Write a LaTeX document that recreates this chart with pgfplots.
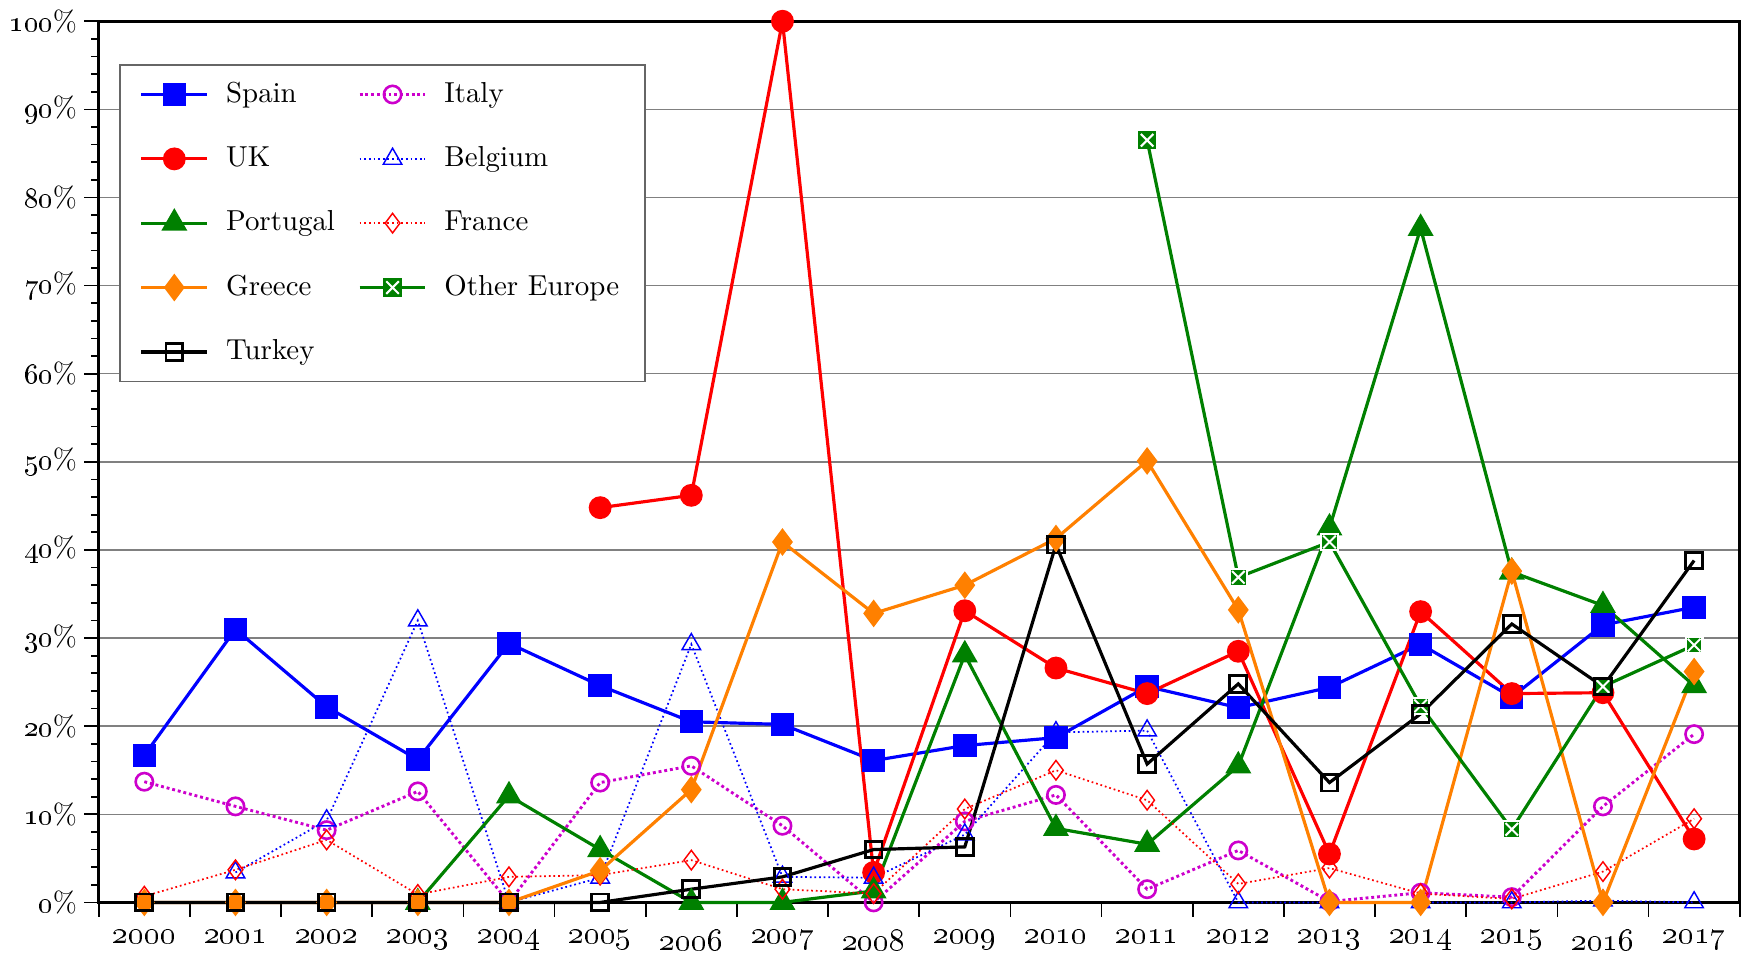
\documentclass[border=0pt]{standalone}
\usepackage{pgfplots}
\pgfplotsset{compat=1.18}

\definecolor{cSpain}{RGB}{0,0,255}
\definecolor{cUK}{RGB}{255,0,0}
\definecolor{cGreen}{RGB}{0,128,0}
\definecolor{cGreece}{RGB}{255,128,0}
\definecolor{cItaly}{RGB}{204,0,204}

% green box with a white cross, for "Other Europe"
\pgfdeclareplotmark{boxx}{%
  \pgfpathrectangle{\pgfqpoint{-\pgfplotmarksize}{-\pgfplotmarksize}}{\pgfqpoint{2\pgfplotmarksize}{2\pgfplotmarksize}}%
  \pgfusepathqfillstroke
  \pgfsetstrokecolor{white}%
  \pgfsetlinewidth{0.7pt}%
  \pgfpathmoveto{\pgfqpoint{-0.75\pgfplotmarksize}{-0.75\pgfplotmarksize}}%
  \pgfpathlineto{\pgfqpoint{0.75\pgfplotmarksize}{0.75\pgfplotmarksize}}%
  \pgfpathmoveto{\pgfqpoint{-0.75\pgfplotmarksize}{0.75\pgfplotmarksize}}%
  \pgfpathlineto{\pgfqpoint{0.75\pgfplotmarksize}{-0.75\pgfplotmarksize}}%
  \pgfusepathqstroke
}

\begin{document}
\begin{tikzpicture}
\begin{axis}[
  scale only axis, width=568pt, height=305pt,
  xmin=1999.5, xmax=2017.5, ymin=0, ymax=100,
  xtick={1999.5,2000.5,...,2017.5},
  x tick label as interval,
  xticklabels={\oldstylenums{2000},\oldstylenums{2001},\oldstylenums{2002},\oldstylenums{2003},\oldstylenums{2004},\oldstylenums{2005},\oldstylenums{2006},\oldstylenums{2007},\oldstylenums{2008},\oldstylenums{2009},\oldstylenums{2010},\oldstylenums{2011},\oldstylenums{2012},\oldstylenums{2013},\oldstylenums{2014},\oldstylenums{2015},\oldstylenums{2016},\oldstylenums{2017}},
  ytick={0,10,...,100},
  yticklabels={\oldstylenums{0}\%,\oldstylenums{10}\%,\oldstylenums{20}\%,\oldstylenums{30}\%,\oldstylenums{40}\%,\oldstylenums{50}\%,\oldstylenums{60}\%,\oldstylenums{70}\%,\oldstylenums{80}\%,\oldstylenums{90}\%,\oldstylenums{100}\%},
  minor y tick num=4,
  xtick pos=bottom, ytick pos=left,
  tick align=outside, major tick length=5pt, minor tick length=2.6pt,
  tick style={black, line width=0.6pt},
  ymajorgrids, major grid style={gray, line width=0.5pt},
  axis line style={black, line width=0.9pt},
  xticklabel style={font=\fontsize{10.5}{12}\selectfont, yshift=-1pt},
  yticklabel style={font=\normalsize, xshift=1pt},
  clip=false,
  legend columns=2,
  legend style={at={(0.0122,0.9516)}, anchor=north west, draw=gray!80!black, line width=0.6pt,
    inner xsep=7pt, inner ysep=4pt, row sep=9.8pt,
    /tikz/every even column/.append style={column sep=6pt},
    nodes={inner sep=2pt}, font=\normalsize},
  legend cell align=left,
  legend image code/.code={%
    \draw[mark repeat=2,mark phase=2] plot coordinates {(0cm,0cm) (0.4cm,0cm) (0.8cm,0cm)};
    \path (0.8cm+4pt,0cm);},
]
% Spain
\addplot[cSpain, line width=1.1pt, mark=square*, mark size=3.5pt] coordinates {
(2000,16.7) (2001,31.0) (2002,22.2) (2003,16.2) (2004,29.4) (2005,24.6) (2006,20.5) (2007,20.2) (2008,16.1)
(2009,17.8) (2010,18.7) (2011,24.5) (2012,22.1) (2013,24.4) (2014,29.3) (2015,23.3) (2016,31.5) (2017,33.5)};
\addlegendentry{Spain}
% Italy
\addplot[cItaly, line width=1.0pt, densely dotted, mark=o, mark size=3pt, mark options={solid, line width=0.9pt}] coordinates {
(2000,13.7) (2001,10.9) (2002,8.2) (2003,12.6) (2004,0.0) (2005,13.6) (2006,15.5) (2007,8.7) (2008,0.0)
(2009,9.2) (2010,12.2) (2011,1.5) (2012,5.9) (2013,0.1) (2014,1.1) (2015,0.6) (2016,10.9) (2017,19.1)};
\addlegendentry{Italy}
% UK
\addplot[cUK, line width=1.1pt, mark=*, mark size=3.4pt] coordinates {
(2005,44.8) (2006,46.2) (2007,100) (2008,3.4) (2009,33.1) (2010,26.6) (2011,23.7) (2012,28.5)
(2013,5.5) (2014,33.0) (2015,23.7) (2016,23.8) (2017,7.2)};
\addlegendentry{UK}
% Belgium
\addplot[cSpain, line width=0.6pt, densely dotted, mark=triangle, mark size=3.7pt, mark options={solid, line width=0.5pt}] coordinates {
(2001,3.4) (2002,9.3) (2003,32.0) (2004,0.0) (2005,2.8) (2006,29.3) (2007,2.9) (2008,2.8) (2009,7.7)
(2010,19.3) (2011,19.5) (2012,0.0) (2013,0.0) (2014,0.0) (2015,0.0) (2016,0.2) (2017,0.0)};
\addlegendentry{Belgium}
% Portugal
\addplot[cGreen, line width=1.1pt, mark=triangle*, mark size=4.1pt] coordinates {
(2003,0.0) (2004,12.1) (2005,6.0) (2006,0.0) (2007,0.0) (2008,1.3) (2009,28.1) (2010,8.4) (2011,6.6)
(2012,15.5) (2013,42.5) (2014,76.5) (2015,37.5) (2016,33.7) (2017,24.6)};
\addlegendentry{Portugal}
% France
\addplot[cUK, line width=0.6pt, densely dotted, mark=diamond, mark size=3.4pt, mark options={solid, line width=0.5pt}] coordinates {
(2000,0.7) (2001,3.7) (2002,7.1) (2003,0.9) (2004,2.9) (2005,3.1) (2006,4.8) (2007,1.5) (2008,1.0)
(2009,10.6) (2010,15.0) (2011,11.6) (2012,2.1) (2013,3.9) (2014,1.0) (2015,0.4) (2016,3.5) (2017,9.5)};
\addlegendentry{France}
% Greece
\addplot[cGreece, line width=1.1pt, mark=diamond*, mark size=3.9pt] coordinates {
(2000,0.0) (2001,0.0) (2002,0.0) (2003,0.0) (2004,0.0) (2005,3.6) (2006,12.8) (2007,40.9) (2008,32.8)
(2009,36.0) (2010,41.3) (2011,50.1) (2012,33.2) (2013,0.0) (2014,0.0) (2015,37.6) (2016,0.0) (2017,26.2)};
\addlegendentry{Greece}
% Other Europe
\addplot[cGreen, line width=1.1pt, mark=boxx, mark size=2.9pt, mark options={fill=cGreen, line width=0.6pt}] coordinates {
(2011,86.5) (2012,36.9) (2013,40.9) (2014,22.3) (2015,8.3) (2016,24.5) (2017,29.2)};
\addlegendentry{Other Europe}
% Turkey
\addplot[black, line width=1.1pt, mark=square, mark size=2.9pt, mark options={line width=1pt}] coordinates {
(2000,0.0) (2001,0.0) (2002,0.0) (2003,0.0) (2004,0.0) (2005,0.0) (2006,1.5) (2007,2.9) (2008,6.0)
(2009,6.3) (2010,40.6) (2011,15.7) (2012,24.8) (2013,13.6) (2014,21.4) (2015,31.6) (2016,24.5) (2017,38.8)};
\addlegendentry{Turkey}
\end{axis}
\end{tikzpicture}
\end{document}
